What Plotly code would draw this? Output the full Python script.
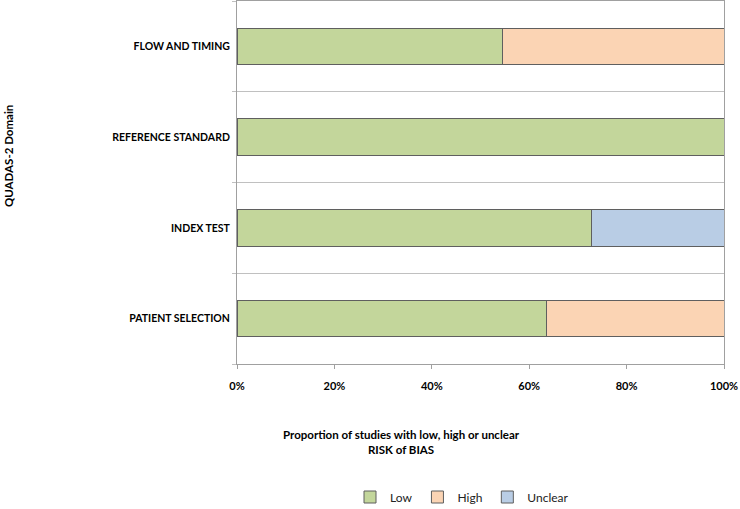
import plotly.graph_objects as go

categories = ["PATIENT SELECTION", "INDEX TEST", "REFERENCE STANDARD", "FLOW AND TIMING"]
low = [63.6, 72.7, 100.0, 54.5]
high = [36.4, 0.0, 0.0, 45.5]
unclear = [0.0, 27.3, 0.0, 0.0]
x_ticks = [0, 20, 40, 60, 80, 100]
x_tick_labels = ["0%", "20%", "40%", "60%", "80%", "100%"]

FONT = "Lato"
fig = go.Figure()
for name, vals, col in [("Low", low, "#c3d69b"), ("High", high, "#fbd4b4"), ("Unclear", unclear, "#b9cde5")]:
    fig.add_trace(go.Bar(
        y=categories, x=vals, name=name, orientation="h",
        marker=dict(color=col, line=dict(color="#5f5f5f", width=1)),
    ))

fig.update_layout(
    barmode="stack", bargap=0.6,
    width=740, height=509,
    margin=dict(l=237, r=16, t=1, b=145, autoexpand=False),
    plot_bgcolor="white", paper_bgcolor="white",
    font=dict(family=FONT, size=11, color="black"),
    showlegend=True,
    legend=dict(orientation="h", x=(350 - 237) / 487, xanchor="left",
                yref="container", y=(509 - 497) / 509, yanchor="middle",
                font=dict(family=FONT, size=12, color="#222"), traceorder="normal",
                itemwidth=30),
    xaxis=dict(range=[0, 100], tickvals=x_ticks, ticktext=x_tick_labels, showgrid=False,
               showline=True, mirror=True, linecolor="#a0a0a0", linewidth=1,
               ticks="outside", ticklen=4, tickcolor="#a0a0a0",
               tickfont=dict(family=FONT, size=11, color="black", weight="bold"),
               ticklabelstandoff=8, zeroline=False),
    yaxis=dict(type="category", tickson="boundaries", showgrid=True, gridcolor="#c0c0c0",
               showline=True, mirror=True, linecolor="#a0a0a0", linewidth=1,
               ticks="outside", ticklen=4, tickcolor="#c0c0c0",
               tickfont=dict(family=FONT, size=10.5, color="black", weight="bold"),
               ticklabelstandoff=4),
    annotations=[
        dict(text="<b>Proportion of studies with low, high or unclear<br>RISK of BIAS</b>",
             xref="paper", yref="paper", x=(401 - 237) / 487, y=-(441 - 363) / 363,
             xanchor="center", yanchor="middle", showarrow=False,
             font=dict(family=FONT, size=11.5, color="black")),
        dict(text="<b>QUADAS-2 Domain</b>", textangle=-90,
             xref="paper", yref="paper", x=(8 - 237) / 487, y=1 - 155 / 363,
             xanchor="center", yanchor="middle", showarrow=False,
             font=dict(family=FONT, size=11.5, color="black")),
    ],
)

fig.write_html("out.html", config={"displayModeBar": False},
               post_script="document.body.style.margin='0';document.body.style.overflow='hidden';")
